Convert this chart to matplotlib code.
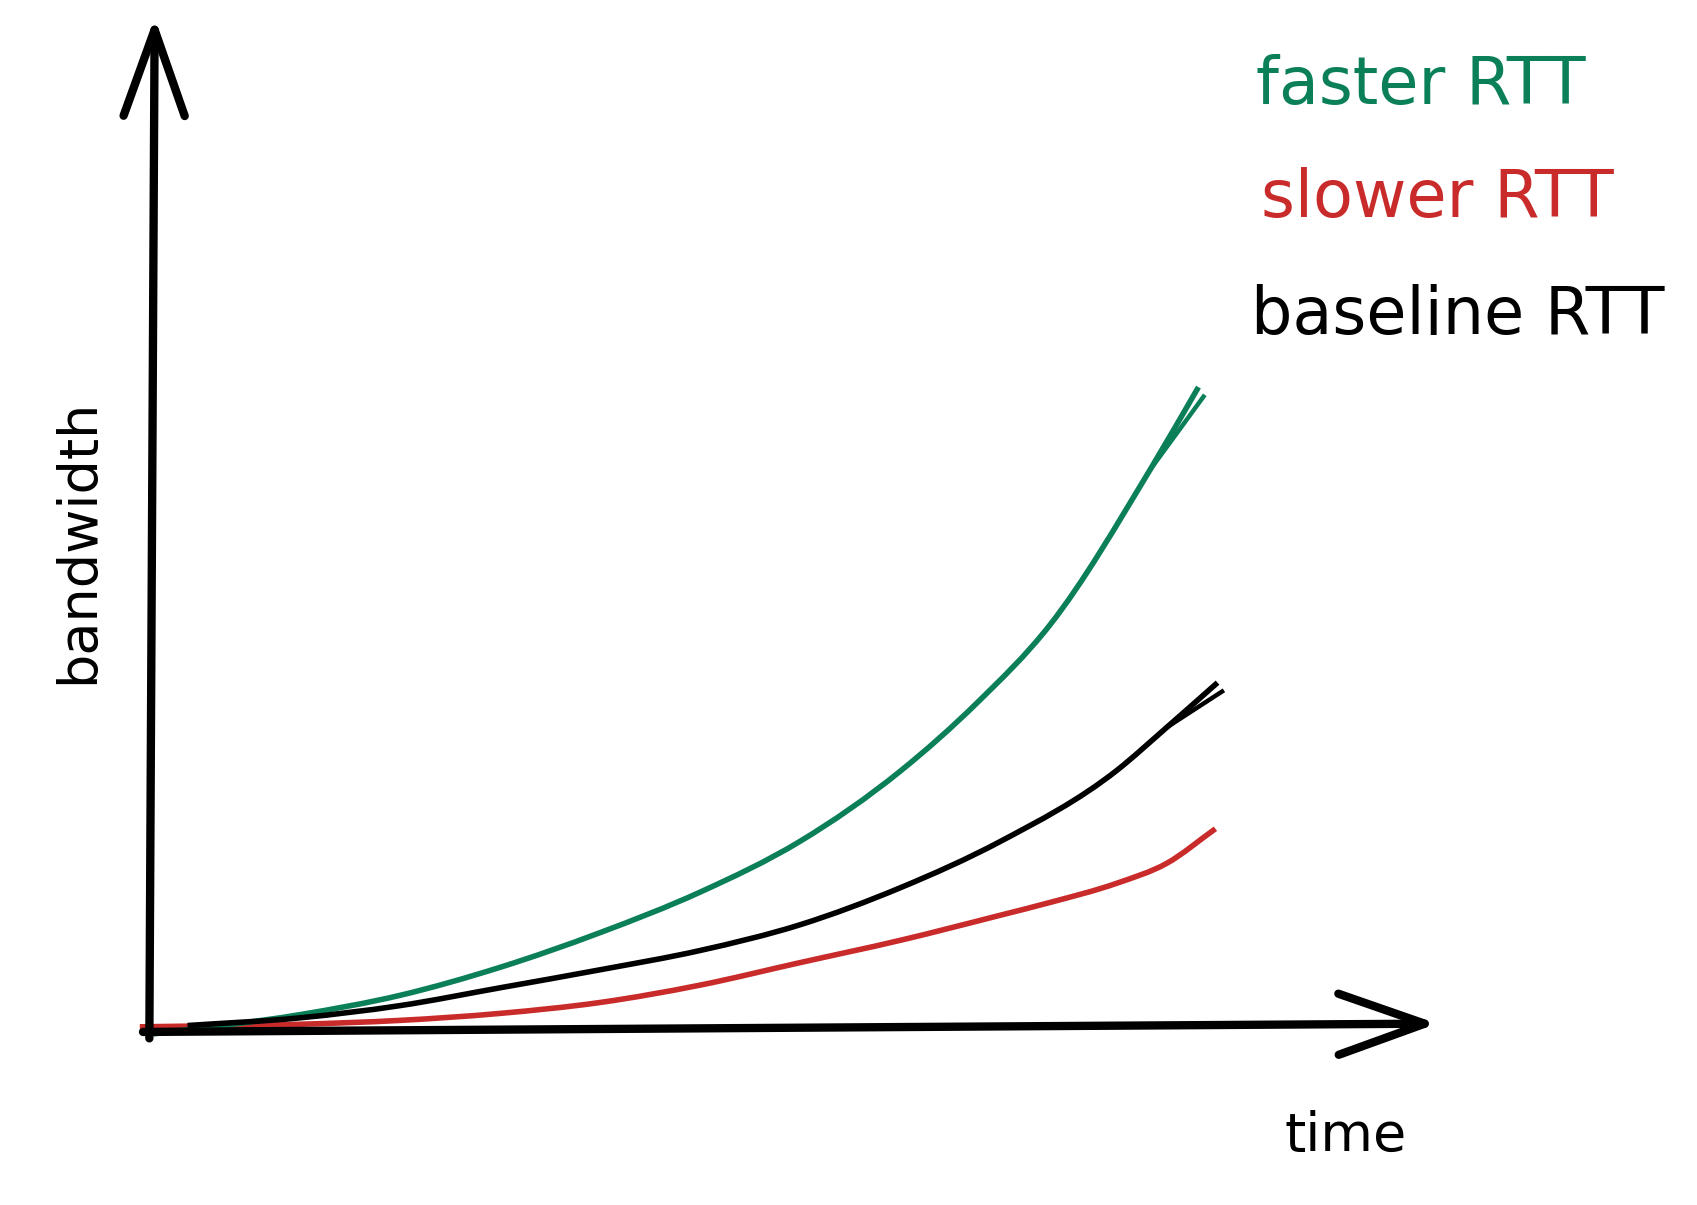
import numpy as np
import matplotlib.pyplot as plt
from matplotlib.path import Path
from matplotlib.patches import PathPatch

# hand-sketch style chart: bandwidth vs time for three RTT cases
time_fast = [0.04, 1.42, 2.36, 3.31, 4.25, 5.19, 6.13, 7.08, 7.80, 8.49, 9.43, 9.89]
bw_fast = [-0.08, 0.22, 0.52, 0.96, 1.50, 2.13, 2.92, 4.02, 5.08, 6.30, 8.71, 10.01]

time_base = [0.36, 1.42, 2.36, 3.31, 4.25, 5.19, 6.13, 7.08, 8.02, 9.12, 9.59, 10.07]
bw_base = [0.05, 0.17, 0.36, 0.64, 0.92, 1.22, 1.62, 2.20, 2.92, 4.03, 4.70, 5.40]

time_slow = [-0.09, 1.42, 2.36, 3.31, 4.25, 5.19, 6.13, 7.08, 8.02, 8.49, 9.12, 9.59, 10.05]
bw_slow = [0.03, 0.07, 0.13, 0.24, 0.41, 0.68, 1.03, 1.38, 1.77, 1.97, 2.27, 2.58, 3.12]

labels = ['faster RTT', 'slower RTT', 'baseline RTT']
GREEN = '#0a7f58'
RED = '#c92a2a'
BLACK = '#000000'


def smooth_path(x, y):
    # cubic hermite through the points, drawn as bezier segments
    x = np.asarray(x, float)
    y = np.asarray(y, float)
    h = np.diff(x)
    d = np.diff(y) / h
    m = np.empty_like(y)
    m[0], m[-1] = d[0], d[-1]
    m[1:-1] = (d[1:] * h[:-1] + d[:-1] * h[1:]) / (h[:-1] + h[1:])
    verts = [(x[0], y[0])]
    codes = [Path.MOVETO]
    for i in range(len(x) - 1):
        verts += [(x[i] + h[i] / 3, y[i] + m[i] * h[i] / 3),
                  (x[i + 1] - h[i] / 3, y[i + 1] - m[i + 1] * h[i] / 3),
                  (x[i + 1], y[i + 1])]
        codes += [Path.CURVE4] * 3
    return Path(verts, codes)


fig = plt.figure(figsize=(16.97, 12.05), dpi=100)
ax = fig.add_axes([0, 0, 1, 1])
ax.set_xlim(-1.408, 14.59)
ax.set_ylim(-2.75, 16.05)
ax.axis('off')

# axes drawn as sketchy arrows
arrow = dict(arrowstyle='->, head_length=3.1, head_width=1.1', lw=6.0,
             color=BLACK, mutation_scale=20, shrinkA=0, shrinkB=0)
ax.annotate('', xy=(0.05, 15.78), xytext=(0.0, -0.15), arrowprops=arrow)
ax.annotate('', xy=(12.14, 0.08), xytext=(-0.06, -0.05), arrowprops=arrow)

# curves, with a second stroke splitting off right at the tip
for t, b, c in [(time_slow, bw_slow, RED), (time_fast, bw_fast, GREEN),
                (time_base, bw_base, BLACK)]:
    ax.add_patch(PathPatch(smooth_path(t, b), fill=False, edgecolor=c, lw=4.0,
                           capstyle='butt', joinstyle='round'))
    if c != RED:
        tt = np.array(t[-2:]) + np.array([0, 0.06])
        bb = np.array(b[-2:]) + np.array([0, -0.12])
        ax.add_patch(PathPatch(smooth_path(tt, bb), fill=False, edgecolor=c,
                               lw=3.2, capstyle='butt'))

fs = 47
fig.text(0.740, 0.929, labels[0], color=GREEN, fontsize=fs, va='center', ha='left')
fig.text(0.743, 0.835, labels[1], color=RED, fontsize=fs, va='center', ha='left')
fig.text(0.737, 0.738, labels[2], color=BLACK, fontsize=fs, va='center', ha='left')

fig.text(0.046, 0.551, 'bandwidth', rotation=90, fontsize=39, va='center', ha='center')
fig.text(0.793, 0.057, 'time', fontsize=39, va='center', ha='center')

fig.savefig('out.png', dpi=100)
